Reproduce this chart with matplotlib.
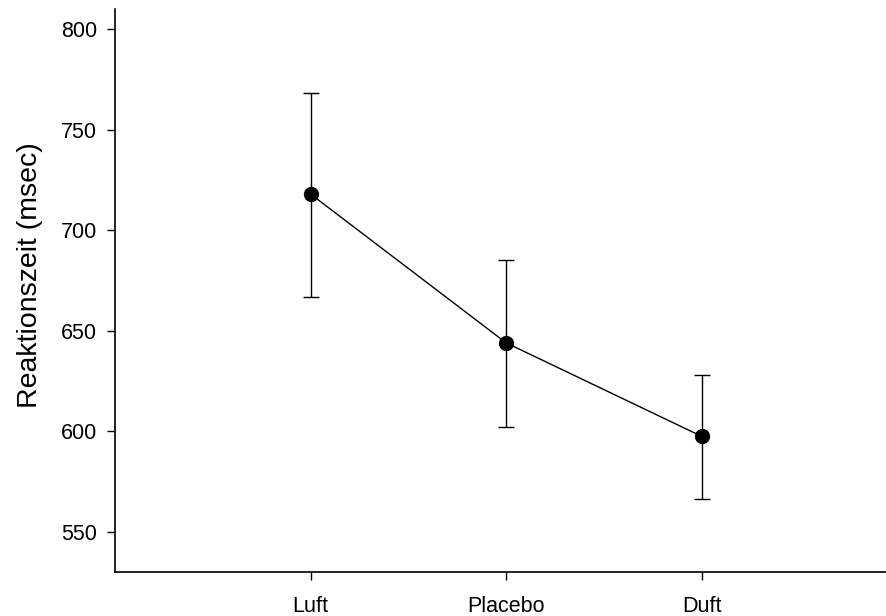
import matplotlib.pyplot as plt

conditions = ["Luft", "Placebo", "Duft"]
means = [718, 644, 597.5]
upper = [768, 685, 628]
lower = [667, 602, 566.5]

plt.rcParams['font.family'] = ['Liberation Sans', 'DejaVu Sans']

fig = plt.figure(figsize=(8.87, 6.16), dpi=100)
ax = fig.add_axes([0.1297, 0.0714, 0.8816, 0.914])

x = list(range(1, len(conditions) + 1))
yerr = [[m - lo for m, lo in zip(means, lower)], [u - m for m, u in zip(means, upper)]]
ax.errorbar(x, means, yerr=yerr, color="black", marker="o", markersize=10,
            linewidth=1, elinewidth=1, capsize=6, capthick=1)

ax.set_xlim(0, 4)
ax.set_ylim(530, 810)
ax.set_xticks(x)
ax.set_xticklabels(conditions)
ax.set_yticks([550, 600, 650, 700, 750, 800])
ax.set_ylabel("Reaktionszeit (msec)", fontsize=20.5)
ax.yaxis.set_label_coords(-0.092, 0.527)
ax.tick_params(direction="out", length=6, width=1, labelsize=15.5)
ax.tick_params(axis="y", pad=7)
ax.tick_params(axis="x", pad=11)
for side in ["top", "right"]:
    ax.spines[side].set_visible(False)
for side in ["left", "bottom"]:
    ax.spines[side].set_linewidth(1.2)

fig.savefig("out.png", dpi=100)
